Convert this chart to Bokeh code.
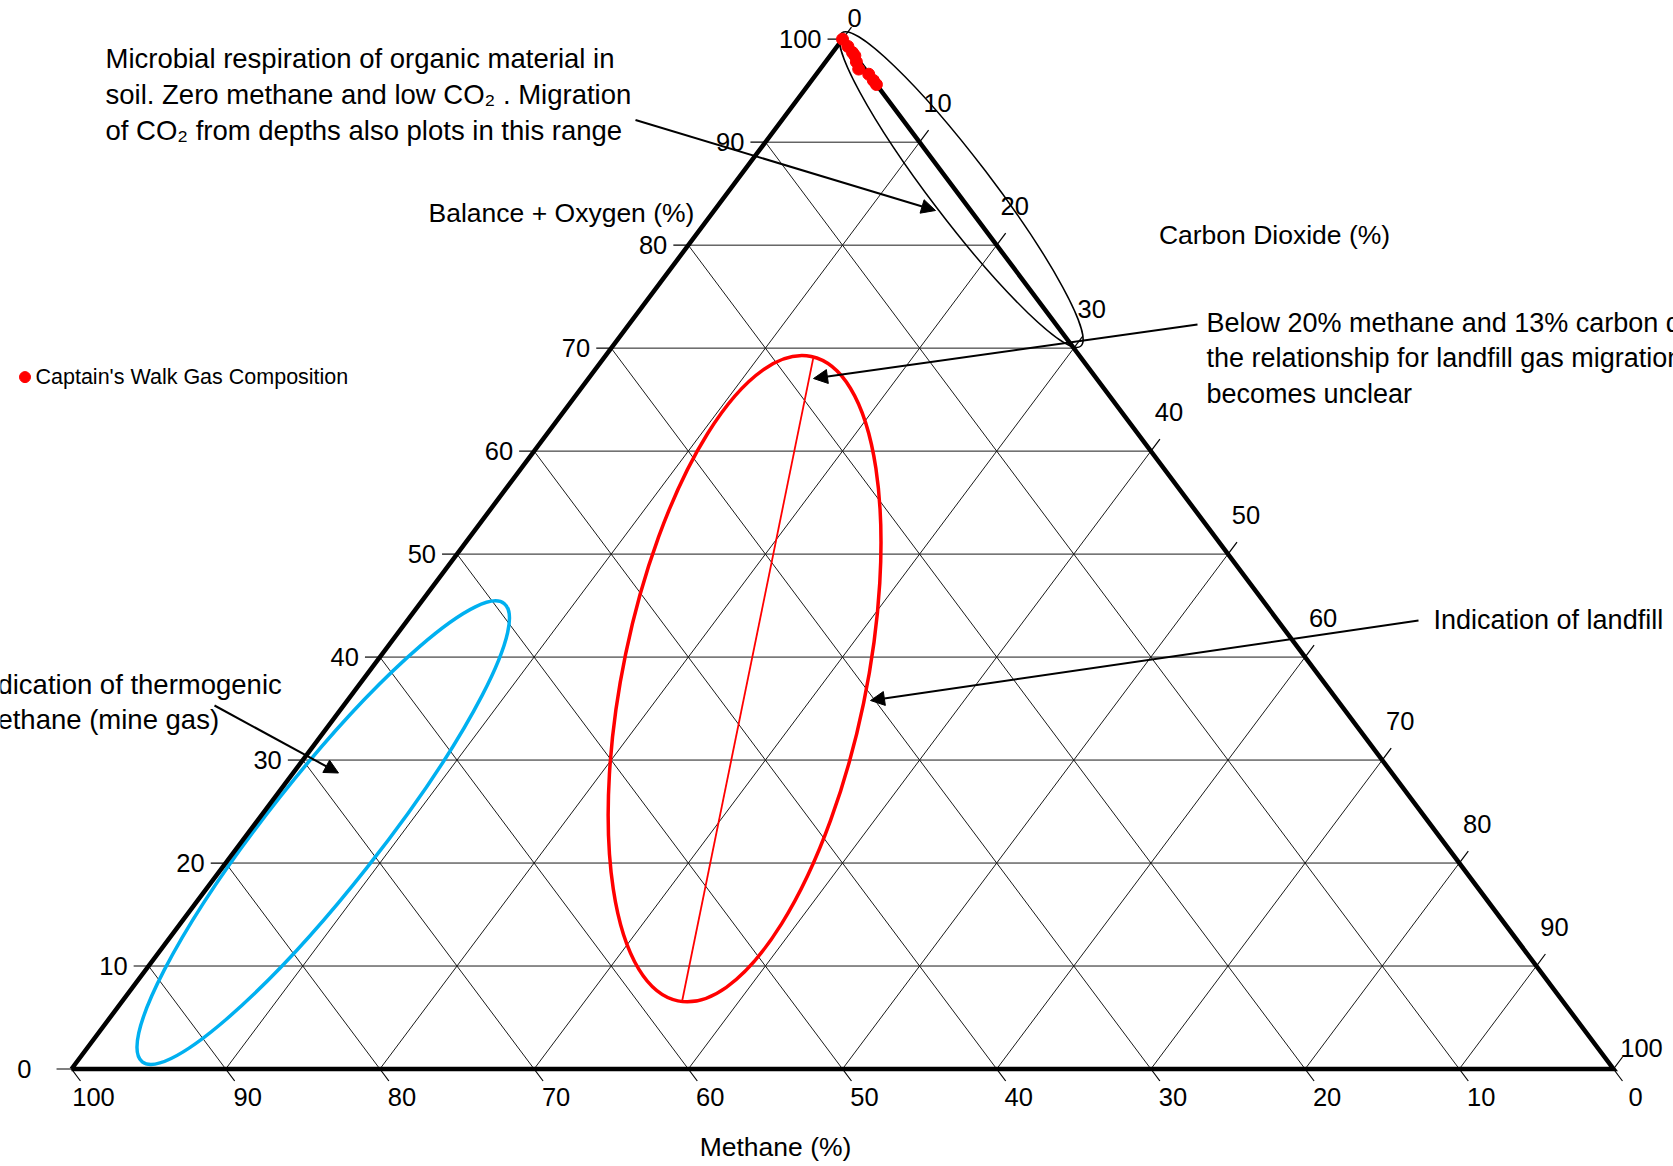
import numpy as np
from bokeh.plotting import figure
from bokeh.models import Range1d, Arrow, NormalHead
from bokeh.core.properties import value
from bokeh.embed import file_html
from bokeh.resources import INLINE

# ---------------- data ----------------
tick_values = [0, 10, 20, 30, 40, 50, 60, 70, 80, 90, 100]
tick_labels = [str(v) for v in tick_values]

series_name = "Captain's Walk Gas Composition"
gas_methane = [0.0, 0.0, 0.0, 0.0, 0.2, 0.4, 0.0, 0.0, 0.0]
gas_co2 = [0.0, 0.7, 1.3, 1.6, 2.0, 2.5, 3.4, 4.0, 4.4]

axis_title_balance = "Balance + Oxygen (%)"
axis_title_co2 = "Carbon Dioxide (%)"
axis_title_methane = "Methane (%)"

# interpretation zones: centre (methane %, CO2 %)
zone_methane = [-0.4, 72.2, 37.4]
zone_co2 = [15.0, 4.85, 24.7]
zone_colors = ["black", "#00B0F0", "#FF0000"]

ratio_line_methane = [17.4, 57.1]
ratio_line_co2 = [13.6, 36.3]

note_microbial = ["Microbial respiration of organic material in",
                  "soil. Zero methane and low CO\u2082 . Migration",
                  "of CO\u2082 from depths also plots in this range"]
note_unclear = ["Below 20% methane and 13% carbon dioxide",
                "the relationship for landfill gas migration",
                "becomes unclear"]
note_landfill = ["Indication of landfill"]
note_thermo = ["Indication of thermogenic", "methane (mine gas)"]

# ---------------- layout ----------------
W, H = 1673, 1166
PAGE = 0
OX, OY = 71.0, 97.5        # pixel position of the 100% methane corner (from left / from bottom)
SX, SY = 15.42, 10.298     # pixels per percent along x / y

FONT = value("Liberation Sans")


def tern(m, c):
    m = np.asarray(m, dtype=float)
    c = np.asarray(c, dtype=float)
    b = 100.0 - m - c
    return c + b / 2.0, b


def ref(xr, yr):
    return (xr - PAGE - OX) / SX, (H - (yr - PAGE) - OY) / SY


p = figure(width=W, height=H,
           x_range=Range1d(-OX / SX, (W - OX) / SX),
           y_range=Range1d(-OY / SY, (H - OY) / SY),
           output_backend="svg", toolbar_location=None,
           x_axis_type=None, y_axis_type=None, min_border=0)
p.grid.visible = False
p.outline_line_color = None
p.background_fill_color = "white"
p.border_fill_color = "white"

# grid lines
gx, gy = [], []
for k in tick_values[1:-1]:
    for (m0, c0), (m1, c1) in [((100 - k, 0), (0, 100 - k)),       # constant balance
                               ((100 - k, k), (0, k)),             # constant CO2
                               ((k, 100 - k), (k, 0))]:            # constant methane
        x, y = tern([m0, m1], [c0, c1])
        gx.append(list(x))
        gy.append(list(y))
p.multi_line(gx, gy, line_color="#1a1a1a", line_width=1)

# ticks
tx, ty = [], []
tl = 0.97
ts = 1.166
for k in tick_values:
    x, y = tern([100 - k, 100 - k + tl], [0, -tl])            # left (balance)
    tx.append(list(x)); ty.append(list(y))
    x, y = tern([k, k], [100 - k, 100 - k + ts])              # bottom (methane)
    tx.append(list(x)); ty.append(list(y))
    x, y = tern([0, -ts], [k, k])                             # right (CO2)
    tx.append(list(x)); ty.append(list(y))
p.multi_line(tx, ty, line_color="black", line_width=1.2)

# zones
zx, zy = tern(zone_methane, zone_co2)
p.ellipse(x=zx, y=zy, width=[394, 584, 658], height=[61, 112, 243],
          angle=[np.radians(-52.7), np.radians(51.7), np.radians(78.3)],
          width_units="screen", height_units="screen",
          fill_color=None, line_color=zone_colors, line_width=[1.5, 3.5, 3.5])

rx, ry = tern(ratio_line_methane, ratio_line_co2)
p.line(rx, ry, line_color="#FF0000", line_width=1.8)

# triangle frame
fx, fy = tern([100, 0, 0, 100], [0, 100, 0, 0])
p.line(fx, fy, line_color="black", line_width=4.5, line_join="miter")

# tick labels
TICK_FS = "25.5px"
lx, ly = tern([100 - k for k in tick_values], [0] * len(tick_values))
left_dx = np.array([-40] + [-21] * 10) / SX
p.text(lx + left_dx, ly, text=tick_labels, text_font=FONT, text_font_size=TICK_FS,
       text_align="right", text_baseline="middle", text_color="black")
bx, by = tern(tick_values, [100 - k for k in tick_values])
p.text(bx + 22 / SX, by - 28 / SY, text=tick_labels, text_font=FONT, text_font_size=TICK_FS,
       text_align="center", text_baseline="middle", text_color="black")
cx, cy = tern([0] * len(tick_values), tick_values)
right_dx = np.array([12] + [18] * 9 + [28]) / SX
right_dy = np.array([21] + [39] * 9 + [21]) / SY
p.text(cx + right_dx, cy + right_dy, text=tick_labels, text_font=FONT, text_font_size=TICK_FS,
       text_align="center", text_baseline="middle", text_color="black")

# axis titles
for t, (xr, yr) in [(axis_title_balance, (561, 212)),
                    (axis_title_co2, (1274, 234)),
                    (axis_title_methane, (775, 1146))]:
    x, y = ref(xr, yr)
    p.text([x], [y], text=[t], text_font=FONT, text_font_size="26.5px",
           text_align="center", text_baseline="middle", text_color="black")

# data points
px_, py_ = tern(gas_methane, gas_co2)
p.scatter(px_, py_, size=12, fill_color="#FF0000", line_color="#FF0000")

# legend
lgx, lgy = ref(24.5, 376.6)
p.scatter([lgx], [lgy], size=11, fill_color="#FF0000", line_color="#FF0000")
ltx, lty = ref(35, 376.6)
p.text([ltx], [lty], text=[series_name], text_font=FONT, text_font_size="21.5px",
       text_align="left", text_baseline="middle", text_color="black")

# annotation notes
def note(lines, xr, ys, fs="27.5px"):
    for line, yr in zip(lines, ys):
        x, y = ref(xr, yr)
        p.text([x], [y], text=[line], text_font=FONT, text_font_size=fs,
               text_align="left", text_baseline="middle", text_color="black")

note(note_microbial, 105, [58, 94, 130])
note(note_unclear, 1206, [322, 357.5, 393], fs="27px")
note(note_landfill, 1433, [619], fs="27px")
note(note_thermo, -26, [684, 719])

# arrows
for (x0, y0), (x1, y1) in [((635, 119.5), (935, 210)),
                           ((1197, 324), (813, 378)),
                           ((1418, 620), (870, 700)),
                           ((214, 705), (338, 772.5))]:
    xs, ys = ref(x0, y0)
    xe, ye = ref(x1, y1)
    p.add_layout(Arrow(end=NormalHead(size=14, fill_color="black", line_color="black", line_width=1),
                       x_start=xs, y_start=ys, x_end=xe, y_end=ye,
                       line_color="black", line_width=2))

open("out.html", "w").write(file_html(p, INLINE))
